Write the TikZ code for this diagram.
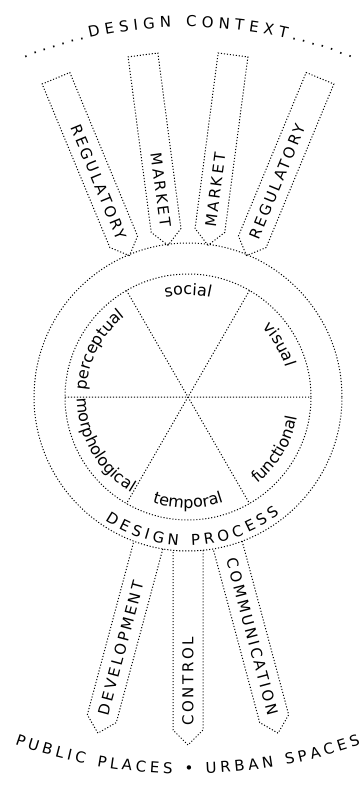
\documentclass[tikz,border=0pt]{standalone}
\usepackage{fontspec}
\setmainfont{DejaVu Sans}
\newfontfamily\spacedfont[LetterSpace=17]{DejaVu Sans}
\usetikzlibrary{decorations.text}
\newcommand\arcfont{\fontsize{15}{18}\selectfont}
\newcommand\lblfont{\fontsize{16}{19}\selectfont}

\begin{document}
\begin{tikzpicture}[x=1pt,y=1pt,
  dots/.style={line width=1pt,dash pattern=on 1.1pt off 1.9pt},
  tag/.style={inner sep=0pt,font=\spacedfont\fontsize{15}{18}\selectfont,transform shape}]
  \useasboundingbox (-188,-390) rectangle (175,397);
  % wheel
  \draw[dots] (0,0) circle[radius=154pt];
  \draw[dots] (0,0) circle[radius=123pt];
  \draw[dots] (180:123pt) -- (0:123pt) (120:123pt) -- (300:123pt) (60:123pt) -- (240:123pt);
  \path[decorate,decoration={text along path,text align=center,text={|\lblfont|social}}]
    (150:102pt) arc[start angle=150,end angle=30,radius=102pt];
  \path[decorate,decoration={text along path,text align=center,text={|\lblfont|visual}}]
    (90:102pt) arc[start angle=90,end angle=-30,radius=102pt];
  \path[decorate,decoration={text along path,text align=center,text={|\lblfont|perceptual}}]
    (212:102pt) arc[start angle=212,end angle=92,radius=102pt];
  \path[decorate,decoration={text along path,text align=center,text={|\lblfont|temporal}}]
    (210:111pt) arc[start angle=210,end angle=330,radius=111pt];
  \path[decorate,decoration={text along path,text align=center,text={|\lblfont|functional}}]
    (-91:111pt) arc[start angle=-91,end angle=29,radius=111pt];
  \path[decorate,decoration={text along path,text align=center,text={|\lblfont|morphological}}]
    (150:111pt) arc[start angle=150,end angle=270,radius=111pt];
  \path[decorate,decoration={text along path,text align={fit to path},text={|\arcfont|DESIGN PROCESS}}]
    (236:148.5pt) arc[start angle=236,end angle=308,radius=148.5pt];

  % context
  \begin{scope}[shift={(0,-77)}]
    \path[decorate,decoration={text along path,text align={fit to path},
      text={|\arcfont|.......DESIGN CONTEXT.......}}]
      (111.5:447pt) arc[start angle=111.5,end angle=68.5,radius=447pt];
  \end{scope}
  \begin{scope}[rotate=112.5]
    \draw[dots] (153,0) -- (168,15) -- (345,15) -- (345,-15) -- (168,-15) -- cycle;
    \node[tag,rotate=180,anchor=east] (reg1) at (171,0) {REGULATORY};
  \end{scope}
  \begin{scope}[rotate=97.5]
    \draw[dots] (153,0) -- (168,15) -- (345,15) -- (345,-15) -- (168,-15) -- cycle;
    \node[tag,rotate=180,anchor=east] (mkt1) at (171,0) {MARKET};
  \end{scope}
  \begin{scope}[rotate=82.5]
    \draw[dots] (153,0) -- (168,15) -- (345,15) -- (345,-15) -- (168,-15) -- cycle;
    \node[tag,anchor=west] (mkt2) at (171,0) {MARKET};
  \end{scope}
  \begin{scope}[rotate=67.5]
    \draw[dots] (153,0) -- (168,15) -- (345,15) -- (345,-15) -- (168,-15) -- cycle;
    \node[tag,anchor=west] (reg2) at (171,0) {REGULATORY};
  \end{scope}

  % outcomes
  \begin{scope}[rotate=-105]
    \draw[dots] (153.3,15) -- (333,15) -- (348,0) -- (333,-15) -- (153.3,-15);
    \node[tag,rotate=180,anchor=west] (dev) at (329,0) {DEVELOPMENT};
  \end{scope}
  \begin{scope}[rotate=-90]
    \draw[dots] (153.3,15) -- (333,15) -- (348,0) -- (333,-15) -- (153.3,-15);
    \node[tag,rotate=180,anchor=west] (ctl) at (329,0) {CONTROL};
  \end{scope}
  \begin{scope}[rotate=-75]
    \draw[dots] (153.3,15) -- (333,15) -- (348,0) -- (333,-15) -- (153.3,-15);
    \node[tag,anchor=east] (com) at (329,0) {COMMUNICATION};
  \end{scope}
  \begin{scope}[shift={(0,147)}]
    \path[decorate,decoration={text along path,text align={fit to path},
      text={|\arcfont|PUBLIC PLACES • URBAN SPACES}}]
      (250.7:524pt) arc[start angle=250.7,end angle=289.2,radius=524pt];
  \end{scope}
\end{tikzpicture}
\end{document}
